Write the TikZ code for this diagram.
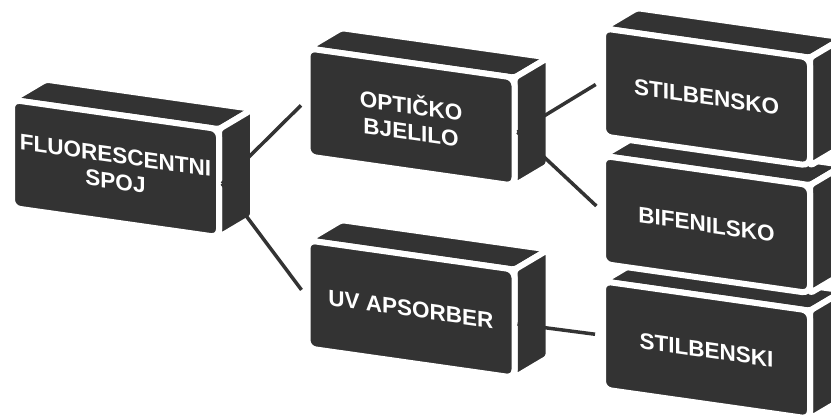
\documentclass[tikz,border=0pt]{standalone}
\usepackage{fontspec}
\setmainfont{Liberation Sans}

\definecolor{boxgray}{HTML}{333333}

% one block: top and side faces first, then the front face as the named node
\newcommand{\cubebox}[3]{%
  \begin{scope}[shift={(#2)},yslant=-0.142,transform shape]
    \filldraw[boxface] (-103.5,54) -- (103.5,54) -- (137.5,79) -- (-69.5,79) -- cycle;
    \filldraw[boxface] (103.5,54) -- (103.5,-54) -- (137.5,-29) -- (137.5,79) -- cycle;
    \node[boxfront] (#1) at (0,0) {#3};
  \end{scope}}

\begin{document}
\begin{tikzpicture}[x=1pt,y=1pt,
  boxface/.style={fill=boxgray,draw=white,line width=6pt,rounded corners=3pt,line join=round},
  boxfront/.style={rectangle,rounded corners=8pt,fill=boxgray,draw=white,line width=6pt,
    minimum width=207pt,minimum height=108pt,inner sep=0pt,text=white,align=center,
    font=\bfseries\fontsize{22.5}{26}\selectfont},
  branch/.style={draw=boxgray,line width=3.5pt,shorten >=5pt}]

  \clip (0,0) rectangle (831,-416);
  \useasboundingbox (0,0) rectangle (831,-416);

  % Specification of blocks (right column drawn bottom up)
  \cubebox{spoj}{115.5,-168.5}{FLUORESCENTNI\\SPOJ}
  \cubebox{opticko}{411,-117}{OPTIČKO\\BJELILO}
  \cubebox{uv}{411,-309}{UV APSORBER}
  \cubebox{stilbenski}{706.5,-350}{STILBENSKI}
  \cubebox{bifenilsko}{706.5,-224.5}{BIFENILSKO}
  \cubebox{stilbensko}{706.5,-97}{STILBENSKO}

  \begin{scope}
    \draw[branch] (spoj.east) -- (opticko.west);
    \draw[branch] (spoj.east) -- (uv.west);
    \draw[branch] (opticko.east) -- (stilbensko.west);
    \draw[branch] (opticko.east) -- (bifenilsko.west);
    \draw[branch] (uv.east) -- (stilbenski.west);
  \end{scope}

\end{tikzpicture}
\end{document}
